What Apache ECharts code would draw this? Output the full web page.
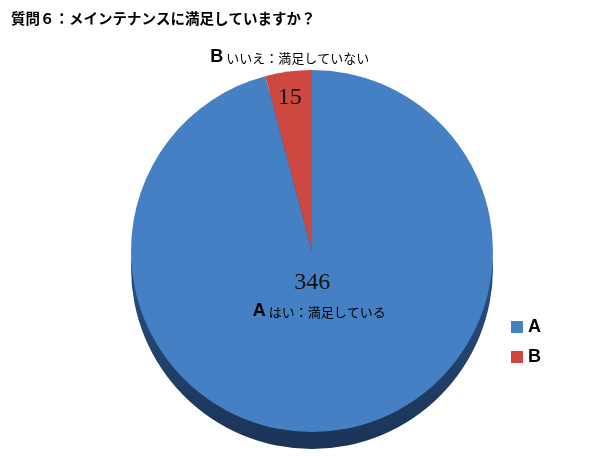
<!DOCTYPE html>
<html>
<head>
<meta charset="utf-8">
<script src="https://cdn.jsdelivr.net/npm/echarts@6/dist/echarts.min.js"></script>
<style>html,body{margin:0;padding:0;background:#fff}#c{width:607px;height:456px}</style>
</head>
<body>
<div id="c"></div>
<script>
var titleText = '質問６：メインテナンスに満足していますか？';
var categories = ['A', 'B'];
var descriptions = ['はい：満足している', 'いいえ：満足していない'];
var values = [346, 15];

var topColors = ['#4680c4', '#cc4841'];
var sideTop = '#2f5a90';
var sideBottom = '#1b3356';

var chart = echarts.init(document.getElementById('c'));

function sideGradient() {
  return new echarts.graphic.LinearGradient(0, 0, 0, 1, [
    { offset: 0, color: sideTop },
    { offset: 0.6, color: '#264a78' },
    { offset: 1, color: sideBottom }
  ]);
}

function topData() {
  return categories.map(function (c, i) {
    return { name: c, value: values[i], itemStyle: { color: topColors[i] } };
  });
}
function sideData() {
  return categories.map(function (c, i) {
    return { name: c, value: values[i], itemStyle: { color: sideGradient() } };
  });
}

var richStyles = {
  v: { fontFamily: 'Liberation Serif', fontSize: 24, color: '#111', lineHeight: 28, padding: [0, 14, 0, 0] },
  v2: { fontFamily: 'Liberation Serif', fontSize: 24, color: '#111', lineHeight: 52 },
  n: { fontFamily: 'Liberation Sans', fontWeight: 'bold', fontSize: 18, color: '#000', lineHeight: 28 },
  t: { fontFamily: 'Noto Sans CJK JP', fontSize: 13, color: '#000', lineHeight: 28, padding: [2, 0, 0, 3] }
};

chart.setOption({
  backgroundColor: '#fff',
  animation: false,
  title: {
    text: titleText,
    left: 6,
    top: 6,
    textStyle: { fontFamily: 'Noto Sans CJK JP', fontSize: 14.5, fontWeight: 'bold', color: '#000' }
  },
  legend: {
    orient: 'vertical',
    left: 506,
    top: 313,
    icon: 'rect',
    itemWidth: 12,
    itemHeight: 12,
    itemGap: 12,
    data: categories.map(function (c, i) {
      return { name: c, itemStyle: { color: topColors[i] } };
    }),
    textStyle: { fontFamily: 'Liberation Sans', fontWeight: 'bold', fontSize: 18, color: '#000' }
  },
  series: [
    {
      type: 'pie',
      name: 'side',
      center: [312, 268],
      radius: 181,
      startAngle: 90,
      silent: true,
      label: { show: false },
      labelLine: { show: false },
      data: sideData(),
      z: 1
    },
    {
      type: 'pie',
      name: 'top',
      center: [312, 251],
      radius: 181,
      startAngle: 90,
      avoidLabelOverlap: false,
      labelLine: { show: false },
      label: {
        show: true,
        position: 'inside',
        formatter: function (p) {
          var i = p.dataIndex;
          if (i === 0) {
            return '{v|' + values[i] + '}\n{n|' + categories[i] + '}{t|' + descriptions[i] + '}';
          }
          return '{n|' + categories[i] + '}{t|' + descriptions[i] + '}\n{v2|' + values[i] + '}';
        },
        rich: richStyles
      },
      labelLayout: function (params) {
        if (params.dataIndex === 0) return { dx: -5, dy: -47 };
        return { dx: -10, dy: -75 };
      },
      data: topData(),
      z: 2
    }
  ]
});
</script>
</body>
</html>
